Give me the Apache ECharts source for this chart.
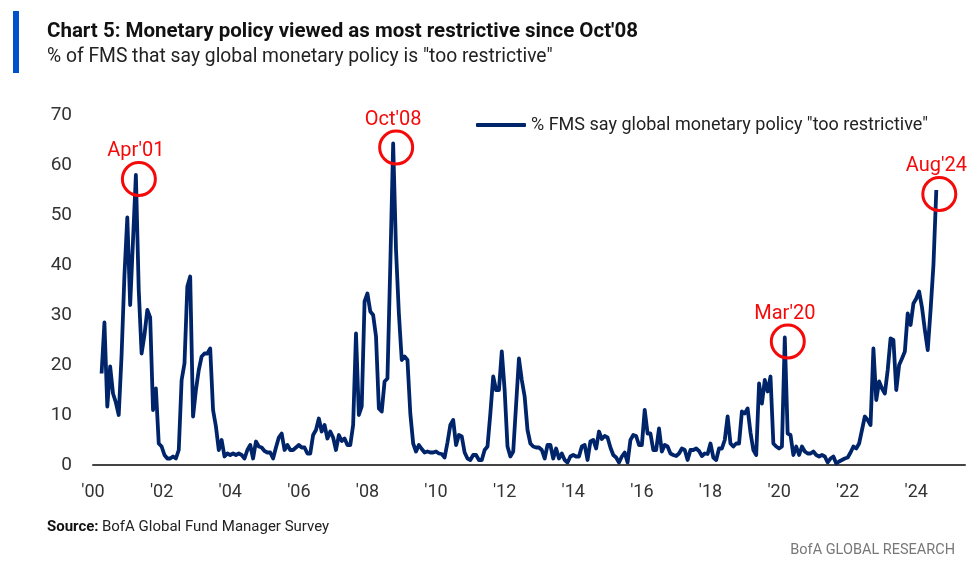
<!DOCTYPE html>
<html><head><meta charset="utf-8">
<script src="https://cdn.jsdelivr.net/npm/echarts@6/dist/echarts.min.js"></script>
<style>html,body{margin:0;padding:0;background:#fff}#c{width:968px;height:571px}</style>
</head><body><div id="c"></div>
<script>
// Monthly survey readings, starting April 2000
const startYear = 2000, startMonth = 4;
const values = [
  18.3, 28.5, 11.7, 19.7, 14.3, 12.5, 10, 22, 38,                 // 2000 Apr-Dec
  49.5, 32, 45, 58, 35, 22.3, 26, 31, 29.5, 11, 15.3, 4.3,        // 2001
  3.7, 2, 1.3, 1.3, 1.7, 1.3, 3, 17, 20.3, 35.7, 37.7, 9.7,       // 2002
  15, 19, 21.7, 22.3, 22.3, 23.3, 11, 7.7, 3, 5, 1.7, 2.3,        // 2003
  2, 2.3, 2, 2.3, 2, 1.3, 3, 4, 1.3, 4.7, 3.7, 3.5,               // 2004
  2.8, 2.5, 2.5, 1.3, 3.5, 5.5, 6.3, 3, 4, 3, 3, 3.5,             // 2005
  4, 3.5, 3.5, 2.3, 2.3, 6, 7, 9.3, 6.7, 8, 5.3, 6.7,             // 2006
  5.5, 3, 6, 4.8, 5.3, 4, 4, 8, 26.3, 10, 11.7, 32.7,             // 2007
  34.3, 30.7, 30, 25.7, 11.3, 10.7, 16.7, 17.3, 40, 64.3, 43, 30.3, // 2008
  21, 21.7, 21, 10.3, 4.3, 2.7, 4, 3.2, 2.5, 2.7, 2.5, 2.5,       // 2009
  2.7, 2.3, 2.2, 1.5, 4.5, 8, 9, 4, 6, 5.7, 2.5, 1.3,             // 2010
  1, 2, 2, 1, 1, 3, 3.7, 10.3, 17.7, 15, 15, 22.7,                // 2011
  15, 3.7, 1.7, 2.7, 12, 21.3, 17, 13.7, 7, 4.3, 3.7, 3.5,        // 2012
  3.5, 3, 1.3, 4, 4, 1.3, 3.3, 1.3, 2.3, 1, 0.5, 1.7,             // 2013
  2, 1.7, 1.7, 3.7, 4, 1, 4.7, 5, 3.3, 6.7, 5.2, 5.8,             // 2014
  5.5, 3.5, 2, 1.5, 0.5, 1.7, 2.5, 0.5, 5, 6, 5.8, 4,             // 2015
  4, 11, 6.3, 6.3, 3, 3, 7.3, 2.7, 4, 3.7, 2.3, 2,                // 2016
  1.8, 2.3, 3.3, 3, 1, 3, 3, 3.3, 2.8, 1.8, 2.3, 2.2,             // 2017
  4.3, 1.5, 1, 3.3, 3.3, 5, 9.7, 4.3, 3.7, 4.3, 4.3, 10.7,        // 2018
  10.3, 11.3, 6.5, 3, 2, 16.3, 12.3, 17, 14.7, 17.7, 4.3, 3.7,    // 2019
  3.3, 3.7, 25.5, 6.3, 6, 2, 3.7, 2, 3.7, 2.7, 2.3, 2.3,          // 2020
  2.7, 2, 1.7, 2, 1.7, 0.5, 1.3, 1.7, 0.3, 0.7, 1, 1.3,           // 2021
  1.5, 2.5, 3.7, 3.3, 4.3, 7, 9.7, 9, 8, 23.3, 13, 16.7,          // 2022
  15.3, 14.3, 19, 25.3, 25, 15, 20, 21.3, 22.7, 30.3, 28, 32.3,   // 2023
  33.3, 34.7, 31.5, 27, 23, 31, 40, 55                            // 2024 Jan-Aug
];
const tickYears = [2000, 2002, 2004, 2006, 2008, 2010, 2012, 2014, 2016, 2018, 2020, 2022, 2024];
const tickLabels = ["'00", "'02", "'04", "'06", "'08", "'10", "'12", "'14", "'16", "'18", "'20", "'22", "'24"];
const yTicks = [0, 10, 20, 30, 40, 50, 60, 70];
const seriesName = '% FMS say global monetary policy "too restrictive"';
const calloutNames = ["Apr'01", "Oct'08", "Mar'20", "Aug'24"];
const calloutYears = [2001, 2008, 2020, 2024];
const calloutMonths = [4, 10, 3, 8];

const base = startYear * 12 + startMonth - 1;
const pts = values.map((v, i) => [(base + i) / 12, v]);
const callouts = calloutNames.map((n, k) => {
  const idx = calloutYears[k] * 12 + calloutMonths[k] - 1 - base;
  return { name: n, coord: pts[idx] };
});

const chart = echarts.init(document.getElementById('c'), null, { renderer: 'canvas' });
const FONT = "'Roboto', sans-serif";
chart.setOption({
  animation: false,
  backgroundColor: '#fff',
  grid: { left: 93, right: 2, top: 115, bottom: 106, containLabel: false },
  legend: {
    data: [seriesName], left: 471, top: 111, icon: 'roundRect', itemWidth: 50, itemHeight: 4,
    itemGap: 4,
    textStyle: { fontFamily: FONT, fontSize: 18, color: '#222' }
  },
  xAxis: {
    type: 'value', min: 2000, max: 2025.42, interval: 2,
    axisLine: { show: true, lineStyle: { color: '#444', width: 2 } },
    axisTick: { show: false }, splitLine: { show: false },
    axisLabel: {
      margin: 18, fontFamily: FONT, fontSize: 18, color: '#333',
      formatter: v => { const k = tickYears.indexOf(Math.round(v * 1000) / 1000); return k >= 0 ? tickLabels[k] : ''; }
    }
  },
  yAxis: {
    type: 'value', min: yTicks[0], max: yTicks[yTicks.length - 1], interval: 10,
    axisLine: { show: false }, axisTick: { show: false }, splitLine: { show: false },
    axisLabel: { margin: 21, fontFamily: FONT, fontSize: 19, color: '#333' }
  },
  series: [{
    name: seriesName, type: 'line', data: pts, showSymbol: false, symbol: 'none',
    lineStyle: { color: '#002469', width: 3.8, join: 'round' },
    itemStyle: { color: '#002469' },
    markPoint: {
      symbol: 'circle', symbolSize: 33, symbolOffset: [3, 4],
      itemStyle: { color: 'rgba(0,0,0,0)', borderColor: '#f50a0a', borderWidth: 3 },
      label: { show: true, position: 'top', distance: 1, offset: [-3, 1], formatter: p => p.name, color: '#f50a0a', fontFamily: FONT, fontSize: 20 },
      data: callouts
    }
  }],
  graphic: [
    { type: 'rect', left: 13, top: 11, shape: { width: 6, height: 62 }, style: { fill: '#0052cc' } },
    { type: 'text', left: 47, top: 21, style: { text: "Chart 5: Monetary policy viewed as most restrictive since Oct'08", font: "bold 20.5px " + FONT, fill: '#111' } },
    { type: 'text', left: 47, top: 48, style: { text: '% of FMS that say global monetary policy is "too restrictive"', font: "19.3px " + FONT, fill: '#222' } },
    { type: 'text', left: 47, top: 520, style: { rich: { b: { font: "bold 15px " + FONT, fill: '#111' }, n: { font: "15px " + FONT, fill: '#222' } }, text: '{b|Source:} {n|BofA Global Fund Manager Survey}' } },
    { type: 'text', right: 13, top: 543, style: { text: 'BofA GLOBAL RESEARCH', font: "14.5px " + FONT, fill: '#777' } }
  ]
});
</script>
</body></html>
